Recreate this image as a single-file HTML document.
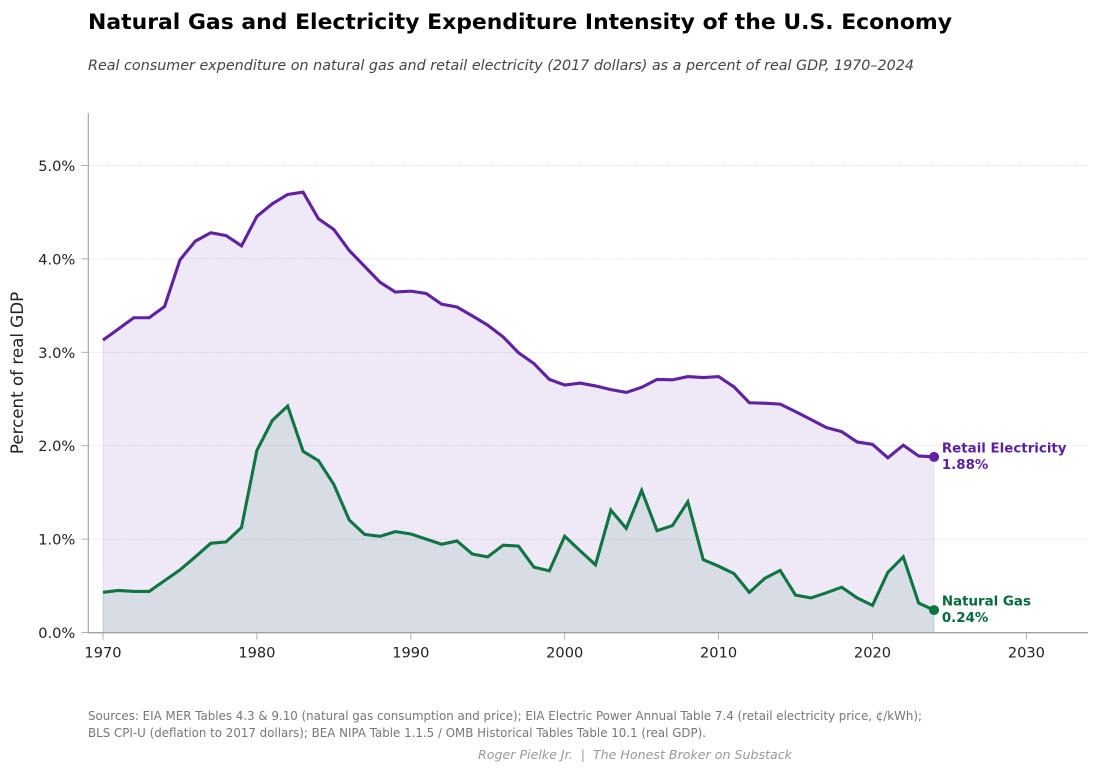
<!DOCTYPE html>
<html lang="en">
<head>
<meta charset="utf-8">
<title>Natural Gas and Electricity Expenditure Intensity of the U.S. Economy</title>
<style>
html,body{margin:0;padding:0;background:#fff;}
svg{display:block;font-family:"DejaVu Sans",sans-serif;}
</style>
</head>
<body>
<svg id="chart" xmlns="http://www.w3.org/2000/svg" width="1100" height="774" viewBox="0 0 1100 774">
<rect width="1100" height="774" fill="#ffffff"/>
<text x="88" y="29" font-size="21.6" font-weight="700" fill="#000000" textLength="864" lengthAdjust="spacingAndGlyphs">Natural Gas and Electricity Expenditure Intensity of the U.S. Economy</text>
<text x="88" y="70" font-size="14" font-style="italic" fill="#444444" textLength="826" lengthAdjust="spacingAndGlyphs">Real consumer expenditure on natural gas and retail electricity (2017 dollars) as a percent of real GDP, 1970–2024</text>
<g id="grid"></g>
<g id="series"></g>
<g id="axes"></g>
<text transform="translate(23,373) rotate(-90)" text-anchor="middle" font-size="16.7" fill="#222222">Percent of real GDP</text>
<text x="88" y="720" font-size="12" fill="#777777" textLength="834" lengthAdjust="spacingAndGlyphs">Sources: EIA MER Tables 4.3 &amp; 9.10 (natural gas consumption and price); EIA Electric Power Annual Table 7.4 (retail electricity price, ¢/kWh);</text>
<text x="88" y="737" font-size="12" fill="#777777" textLength="618" lengthAdjust="spacingAndGlyphs">BLS CPI-U (deflation to 2017 dollars); BEA NIPA Table 1.1.5 / OMB Historical Tables Table 10.1 (real GDP).</text>
<text x="478" y="759" font-size="12.5" font-style="italic" fill="#999999" textLength="314" lengthAdjust="spacingAndGlyphs" style="white-space:pre">Roger Pielke Jr.  |  The Honest Broker on Substack</text>
</svg>
<script>
var years = [1970,1971,1972,1973,1974,1975,1976,1977,1978,1979,1980,1981,1982,1983,1984,1985,1986,1987,1988,1989,1990,1991,1992,1993,1994,1995,1996,1997,1998,1999,2000,2001,2002,2003,2004,2005,2006,2007,2008,2009,2010,2011,2012,2013,2014,2015,2016,2017,2018,2019,2020,2021,2022,2023,2024];
var electricityValues = [3.13,3.25,3.37,3.37,3.49,3.99,4.19,4.28,4.25,4.14,4.455,4.59,4.69,4.715,4.43,4.315,4.09,3.92,3.75,3.645,3.655,3.63,3.515,3.485,3.39,3.29,3.165,2.995,2.88,2.71,2.65,2.67,2.64,2.60,2.57,2.625,2.71,2.705,2.74,2.73,2.74,2.63,2.46,2.455,2.445,2.365,2.28,2.195,2.15,2.04,2.015,1.87,2.005,1.89,1.88];
var gasValues = [0.43,0.45,0.44,0.44,0.555,0.67,0.81,0.955,0.97,1.125,1.95,2.27,2.425,1.94,1.84,1.585,1.205,1.05,1.03,1.08,1.055,1.0,0.945,0.98,0.84,0.81,0.935,0.925,0.70,0.66,1.03,0.875,0.725,1.31,1.115,1.52,1.09,1.145,1.40,0.78,0.71,0.63,0.43,0.58,0.665,0.40,0.37,0.425,0.485,0.37,0.29,0.645,0.81,0.315,0.24];
var yTicks = [0,1,2,3,4,5];
var xTicks = [1970,1980,1990,2000,2010,2020,2030];

var NS = 'http://www.w3.org/2000/svg';
var plot = {left:88.3, right:1088, top:113, bottom:632.7};
function xScale(year){ return 103 + (year - 1970) * 15.39; }
function yScale(v){ return 632.5 - v * 93.4; }
function make(parent, tag, attrs, text){
  var el = document.createElementNS(NS, tag);
  for (var k in attrs) el.setAttribute(k, attrs[k]);
  if (text !== undefined) el.textContent = text;
  parent.appendChild(el);
  return el;
}
function linePath(values){
  return values.map(function(v,i){ return (i ? 'L' : 'M') + xScale(years[i]).toFixed(2) + ' ' + yScale(v).toFixed(2); }).join(' ');
}
function areaPath(values){
  var last = years[years.length-1];
  return linePath(values) + ' L' + xScale(last).toFixed(2) + ' ' + yScale(0) + ' L' + xScale(years[0]).toFixed(2) + ' ' + yScale(0) + ' Z';
}
var grid = document.getElementById('grid');
var series = document.getElementById('series');
var axes = document.getElementById('axes');
var el;

yTicks.forEach(function(t){
  if (t === 0) return;
  el = make(grid, 'line', {x1:plot.left, x2:plot.right, y1:yScale(t), y2:yScale(t), stroke:'#cccccc', 'stroke-width':0.7, 'stroke-dasharray':'1 1.2', opacity:0.85});
  
  
});

function drawSeries(values, color, fillOpacity, name){
  var area = make(series, 'path', {d:areaPath(values), fill:color, 'fill-opacity':fillOpacity, stroke:color, 'stroke-opacity':0.1, 'stroke-width':1});
  
  
  var line = make(series, 'path', {d:linePath(values), fill:'none', stroke:color, 'stroke-width':3.1, 'stroke-linejoin':'miter'});
  
  
  var dot = make(series, 'circle', {cx:xScale(years[years.length-1]), cy:yScale(values[values.length-1]), r:5, fill:color});
  
  
}
drawSeries(electricityValues, '#5e22a3', 0.1, 'electricity');
drawSeries(gasValues, '#0f7542', 0.1, 'natural-gas');

function drawEndLabel(values, name, color, label){
  var v = values[values.length-1];
  var x = xScale(years[years.length-1]) + 7.8;
  var y = yScale(v);
  var a = make(series, 'text', {x:x, y:y-4.6, 'font-size':13.4, 'font-weight':700, fill:color}, label);
  
  
  var b = make(series, 'text', {x:x, y:y+12, 'font-size':13.4, 'font-weight':700, fill:color}, v.toFixed(2) + '%');
  
  
}
drawEndLabel(electricityValues, 'electricity', '#5b1fa0', 'Retail Electricity');
drawEndLabel(gasValues, 'natural-gas', '#066b3c', 'Natural Gas');

el = make(axes, 'line', {x1:plot.left, x2:plot.left, y1:plot.top, y2:plot.bottom, stroke:'#a0a0a0', 'stroke-width':1.1});


el = make(axes, 'line', {x1:plot.left, x2:plot.right, y1:plot.bottom, y2:plot.bottom, stroke:'#a0a0a0', 'stroke-width':1.3});



yTicks.forEach(function(t){
  el = make(axes, 'line', {x1:plot.left-7, x2:plot.left, y1:yScale(t), y2:yScale(t), stroke:'#a6a6a6', 'stroke-width':0.9});
  
  
  el = make(axes, 'text', {x:plot.left-13, y:yScale(t)+5.5, 'text-anchor':'end', 'font-size':14.6, fill:'#222222'}, t.toFixed(1) + '%');
  
  
});
xTicks.forEach(function(t){
  el = make(axes, 'line', {x1:xScale(t), x2:xScale(t), y1:plot.bottom, y2:plot.bottom+7, stroke:'#a6a6a6', 'stroke-width':0.9});
  
  
  el = make(axes, 'text', {x:xScale(t), y:plot.bottom+25, 'text-anchor':'middle', 'font-size':14.6, fill:'#222222'}, String(t));
  
  
});
</script>
</body>
</html>
